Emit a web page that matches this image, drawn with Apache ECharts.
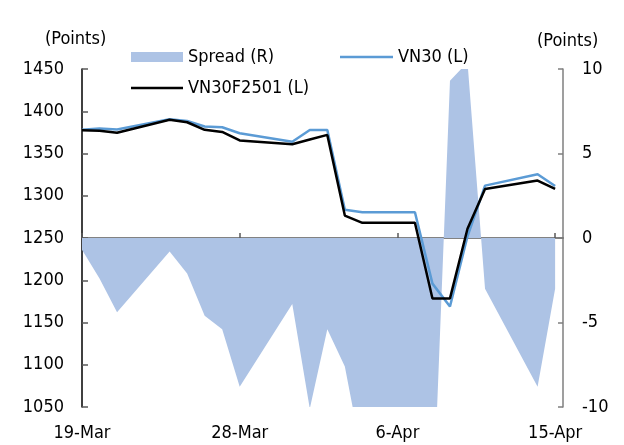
<!DOCTYPE html>
<html>
<head>
<meta charset="utf-8">
<script src="https://cdn.jsdelivr.net/npm/echarts@6/dist/echarts.min.js"></script>
<style>
html,body{margin:0;padding:0;background:#fff;}
#c{width:624px;height:445px;}
</style>
</head>
<body>
<div id="c"></div>
<script>
const dates = ['2025-03-19','2025-03-20','2025-03-21','2025-03-24','2025-03-25','2025-03-26','2025-03-27','2025-03-28','2025-03-31','2025-04-01','2025-04-02','2025-04-03','2025-04-04','2025-04-07','2025-04-08','2025-04-09','2025-04-10','2025-04-11','2025-04-14','2025-04-15'];
const vn30 = [1378, 1379.5, 1378.5, 1390.5, 1388.5, 1382, 1381, 1374, 1364, 1377.8, 1377.8, 1283.5, 1280.5, 1280.5, 1196, 1169, 1252, 1312, 1325.5, 1311.5];
const vn30f2501 = [1377.5, 1377, 1374.5, 1390, 1387, 1378, 1375.5, 1365.5, 1361, 1366.5, 1372, 1276.5, 1268, 1268, 1178.5, 1178.5, 1261, 1308, 1318, 1308];
const spread = [-0.7, -2.4, -4.4, -0.8, -2.1, -4.6, -5.4, -8.8, -3.9, -10.1, -5.4, -7.6, -13, -12.4, -17, 9.3, 10.4, -3, -8.8, -3];
const xTickLabels = ['19-Mar', '28-Mar', '6-Apr', '15-Apr'];
const seriesNames = ['Spread (R)', 'VN30 (L)', 'VN30F2501 (L)'];
const unitLabel = '(Points)';

const DAY = 86400000;
const base = Date.parse(dates[0] + 'T00:00:00Z');
const dayIdx = dates.map(d => Math.round((Date.parse(d + 'T00:00:00Z') - base) / DAY));
const pair = arr => arr.map((v, i) => [dayIdx[i], v]);

const FONT = "'DejaVu Sans Condensed', 'DejaVu Sans', sans-serif";
const FS = 18;
const legendText = {fontFamily: FONT, fontSize: FS, color: '#000'};

const chart = echarts.init(document.getElementById('c'), null, {renderer: 'canvas'});
chart.setOption({
  animation: false,
  backgroundColor: '#fff',
  textStyle: {fontFamily: FONT, color: '#000'},
  grid: {left: 82, right: 61, top: 69, bottom: 38, containLabel: false},
  legend: [
    {
      data: [{name: seriesNames[0], icon: 'rect'}],
      left: 131, top: 48, padding: 0,
      itemWidth: 52, itemHeight: 10, itemGap: 5,
      textStyle: legendText
    },
    {
      data: [{name: seriesNames[1], icon: 'rect'}],
      left: 340, top: 48, padding: 0,
      itemWidth: 53, itemHeight: 2.5,
      textStyle: legendText
    },
    {
      data: [{name: seriesNames[2], icon: 'rect'}],
      left: 131, top: 79, padding: 0,
      itemWidth: 52, itemHeight: 2.5,
      textStyle: legendText
    }
  ],
  graphic: [
    {type: 'text', left: 45, top: 30, style: {text: unitLabel, font: FS + 'px ' + FONT, fill: '#000'}},
    {type: 'text', left: 537, top: 32, style: {text: unitLabel, font: FS + 'px ' + FONT, fill: '#000'}}
  ],
  xAxis: {
    type: 'value', min: 0, max: 27.45, interval: 9,
    axisLine: {show: true, lineStyle: {color: '#595959', width: 1.5}},
    axisTick: {show: true, inside: true, length: 5, lineStyle: {color: '#595959', width: 1.5}},
    splitLine: {show: false},
    axisLabel: {
      margin: 17, fontFamily: FONT, fontSize: FS, color: '#000',
      showMaxLabel: false,
      formatter: v => { const k = Math.round(v / 9); return Math.abs(v - k * 9) < 1e-6 ? (xTickLabels[k] || '') : ''; }
    }
  },
  yAxis: [
    {
      type: 'value', min: 1050, max: 1450, interval: 50,
      axisLine: {show: true, lineStyle: {color: '#000', width: 1.5}},
      axisTick: {show: true, inside: true, length: 6, lineStyle: {color: '#595959', width: 1.5}},
      splitLine: {show: false},
      axisLabel: {margin: 18, fontFamily: FONT, fontSize: FS, color: '#000', formatter: v => String(v)}
    },
    {
      type: 'value', min: -10, max: 10, interval: 5, position: 'right',
      axisLine: {show: true, lineStyle: {color: '#7f7f7f', width: 1.5}},
      axisTick: {show: true, inside: true, length: 5, lineStyle: {color: '#7f7f7f', width: 1.5}},
      splitLine: {show: false},
      axisLabel: {margin: 19, fontFamily: FONT, fontSize: FS, color: '#000', formatter: v => String(v)}
    }
  ],
  series: [
    {
      name: seriesNames[0], type: 'line', yAxisIndex: 1, data: pair(spread),
      symbol: 'none', color: '#adc3e5',
      lineStyle: {width: 0, color: '#adc3e5'},
      areaStyle: {color: '#adc3e5', opacity: 1},
      z: 1
    },
    {
      name: seriesNames[1], type: 'line', yAxisIndex: 0, data: pair(vn30),
      symbol: 'none', color: '#5b9bd5',
      lineStyle: {width: 2.5, color: '#5b9bd5'},
      z: 2
    },
    {
      name: seriesNames[2], type: 'line', yAxisIndex: 0, data: pair(vn30f2501),
      symbol: 'none', color: '#000',
      lineStyle: {width: 2.5, color: '#000'},
      z: 3
    }
  ]
});
</script>
</body>
</html>
